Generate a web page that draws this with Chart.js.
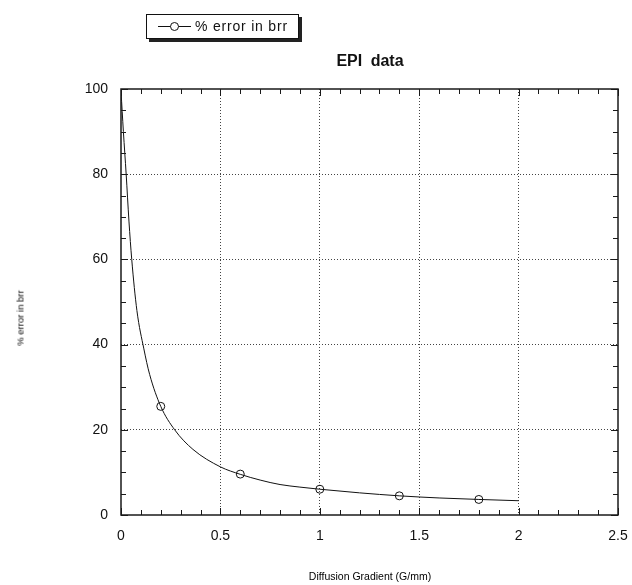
<!DOCTYPE html>
<html lang="en">
<head>
    <meta charset="UTF-8">
    <title>EPI data</title>
    <script src="https://cdn.jsdelivr.net/npm/chart.js"></script>
    <style>
        body { margin: 0; background: #fff; }
        .wrap { position: relative; width: 632px; height: 585px; font-family: 'Liberation Sans', Arial, sans-serif; color: #111; }
        canvas { position: absolute; left: 0; top: 0; }
        .legend-box {
            position: absolute; left: 146px; top: 14px; width: 151px; height: 23px;
            border: 1px solid #111; box-shadow: 3px 3px 0 #222; background: #fff;
        }
        .legend-box .sample { position: absolute; left: 11px; top: 11px; width: 33px; height: 1px; background: #111; }
        .legend-box .sample span {
            position: absolute; left: 12px; top: -4px; width: 7px; height: 7px;
            border: 1px solid #111; border-radius: 50%; background: #fff;
        }
        .legend-box .label { position: absolute; left: 48px; top: 3px; font-size: 14px; letter-spacing: 0.8px; }
        .title { position: absolute; left: 0; width: 740px; top: 52px; text-align: center; font-weight: bold; font-size: 16px; word-spacing: 4px; }
        .xlabel { position: absolute; left: 0; width: 740px; top: 570px; text-align: center; font-size: 10.5px; color: #000; }
        .ylabel { position: absolute; left: 20px; top: 318px; font-size: 9.5px; color: #000; transform: translate(-50%, -50%) rotate(-90deg); white-space: nowrap; }
    </style>
</head>
<body>
<div class="wrap">
    <canvas id="chart" width="632" height="585"></canvas>
    <div class="legend-box"><div class="sample"><span></span></div><div class="label">% error in brr</div></div>
    <div class="title">EPI data</div>
    <div class="ylabel">% error in brr</div>
    <div class="xlabel">Diffusion Gradient (G/mm)</div>
</div>

<script>
    // measured points (circles)
    const gradient = [0.2, 0.6, 1.0, 1.4, 1.8];
    const errorPct = [25.5, 9.6, 6.05, 4.5, 3.65];

    // fitted curve
    const fitX = [0, 0.012, 0.026, 0.04, 0.054, 0.08, 0.115, 0.144, 0.2, 0.27, 0.362, 0.5, 0.6, 0.7, 0.8, 0.9, 1.0, 1.2, 1.4, 1.6, 1.8, 2.0];
    const fitY = [99.5, 90, 80, 69, 60, 48, 39, 33, 25.5, 20, 15.4, 11.3, 9.55, 8.2, 7.15, 6.55, 6.05, 5.2, 4.5, 4.0, 3.65, 3.35];

    // tick labels
    const xTicks = [0, 0.5, 1, 1.5, 2, 2.5];
    const yTicks = [0, 20, 40, 60, 80, 100];

    // inward minor/major ticks on all four sides + frame
    const framePlugin = {
        id: 'frame',
        afterDatasetsDraw(chart) {
            const { ctx, chartArea: a, scales: { x, y } } = chart;
            ctx.save();
            ctx.strokeStyle = '#1a1a1a';
            ctx.lineWidth = 1;
            ctx.beginPath();
            for (let v = 0; v <= 2.5001; v += 0.1) {
                const px = Math.round(x.getPixelForValue(v)) + 0.5;
                const major = Math.abs(v * 2 - Math.round(v * 2)) < 1e-6;
                const len = major ? 7 : 5;
                ctx.moveTo(px, a.bottom); ctx.lineTo(px, a.bottom - len);
                ctx.moveTo(px, a.top); ctx.lineTo(px, a.top + len);
            }
            for (let v = 0; v <= 100; v += 5) {
                const py = Math.round(y.getPixelForValue(v)) + 0.5;
                const len = v % 20 === 0 ? 7 : 5;
                ctx.moveTo(a.left, py); ctx.lineTo(a.left + len, py);
                ctx.moveTo(a.right, py); ctx.lineTo(a.right - len, py);
            }
            ctx.stroke();
            ctx.lineWidth = 1.5;
            ctx.strokeRect(a.left, a.top, a.right - a.left, a.bottom - a.top);
            ctx.restore();
        }
    };

    const ctx = document.getElementById('chart').getContext('2d');
    new Chart(ctx, {
        type: 'scatter',
        data: {
            datasets: [
                {
                    label: 'fit',
                    data: fitX.map((v, i) => ({ x: v, y: fitY[i] })),
                    showLine: true,
                    borderColor: '#111',
                    borderWidth: 1,
                    pointRadius: 0,
                    cubicInterpolationMode: 'monotone',
                    order: 2
                },
                {
                    label: '% error in brr',
                    data: gradient.map((v, i) => ({ x: v, y: errorPct[i] })),
                    showLine: false,
                    pointStyle: 'circle',
                    pointRadius: 4,
                    pointBorderWidth: 1,
                    pointBorderColor: '#111',
                    pointBackgroundColor: 'rgba(255,255,255,0)',
                    order: 1
                }
            ]
        },
        options: {
            responsive: false,
            animation: false,
            layout: { padding: { top: 89, right: 14, left: 0, bottom: 0 } },
            plugins: { legend: { display: false }, title: { display: false }, tooltip: { enabled: false } },
            scales: {
                x: {
                    type: 'linear', min: 0, max: 2.5,
                    afterBuildTicks: s => { s.ticks = xTicks.map(v => ({ value: v })); },
                    afterFit: s => { s.height = 70; s.paddingLeft = 0; s.paddingRight = 0; },
                    grid: {
                        color: c => (c.tick.value === 0 || c.tick.value === 2.5) ? 'rgba(0,0,0,0)' : '#444',
                        lineWidth: 1, drawTicks: false
                    },
                    border: { display: false, dash: [1, 2] },
                    ticks: {
                        color: '#111', padding: 13,
                        font: { family: "'Liberation Sans', Arial, sans-serif", size: 14 },
                        callback: v => String(v)
                    }
                },
                y: {
                    type: 'linear', min: 0, max: 100,
                    afterBuildTicks: s => { s.ticks = yTicks.map(v => ({ value: v })); },
                    afterFit: s => { s.width = 121; s.paddingTop = 0; s.paddingBottom = 0; },
                    grid: {
                        color: c => (c.tick.value === 0 || c.tick.value === 100) ? 'rgba(0,0,0,0)' : '#444',
                        lineWidth: 1, drawTicks: false
                    },
                    border: { display: false, dash: [1, 2] },
                    ticks: {
                        color: '#111', padding: 13,
                        font: { family: "'Liberation Sans', Arial, sans-serif", size: 14 },
                        callback: v => String(v)
                    }
                }
            }
        },
        plugins: [framePlugin]
    });
</script>
</body>
</html>
